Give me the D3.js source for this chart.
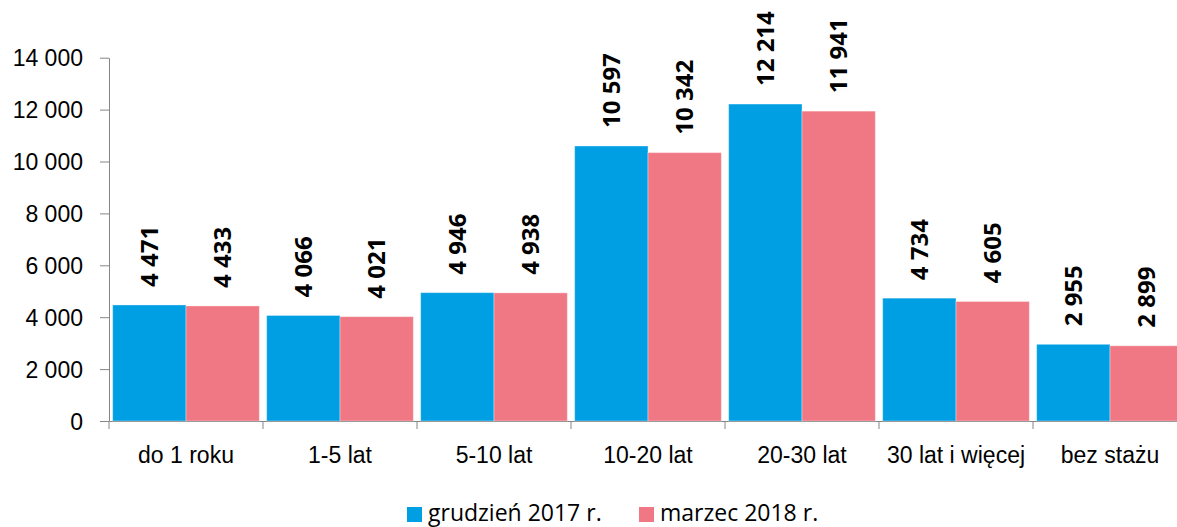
<!DOCTYPE html>
<html>
<head>
<meta charset="utf-8">
<script src="https://cdn.jsdelivr.net/npm/d3@7"></script>
<style>
  body { margin: 0; background: #fff; }
  svg { display: block; font-family: "Open Sans", "Liberation Sans", sans-serif; }
  .axis path, .axis line { stroke: #868686; }
  .axis text { fill: #000; font-size: 23px; }
</style>
</head>
<body>
<div id="chart"></div>
<script>
var categories = ["do 1 roku", "1-5 lat", "5-10 lat", "10-20 lat", "20-30 lat", "30 lat i więcej", "bez stażu"];
var seriesNames = ["grudzień 2017 r.", "marzec 2018 r."];
var dec2017 = [4471, 4066, 4946, 10597, 12214, 4734, 2955];
var mar2018 = [4433, 4021, 4938, 10342, 11941, 4605, 2899];
var yTicks = [0, 2000, 4000, 6000, 8000, 10000, 12000, 14000];

var colors = {"grudzień 2017 r.": "#009fe3", "marzec 2018 r.": "#f07884"};
var width = 1177, height = 527;
var margin = {top: 58, left: 109, bottom: 106};

var fmt = d3.formatLocale({decimal: ",", thousands: " ", grouping: [3], currency: ["", " zł"]}).format(",d");

var data = categories.map(function(c, i) {
  return {cat: c, vals: [
    {name: seriesNames[0], value: dec2017[i]},
    {name: seriesNames[1], value: mar2018[i]}
  ]};
});

var svg = d3.select("#chart").append("svg")
    .attr("width", width)
    .attr("height", height);

// plot runs past the right edge like in the original
var x = d3.scaleBand()
    .domain(categories)
    .range([margin.left, margin.left + 154 * categories.length]);

var xs = d3.scaleBand()
    .domain(seriesNames)
    .range([0, x.bandwidth()])
    .paddingOuter(0.05);

var y = d3.scaleLinear()
    .domain([0, 14000])
    .range([height - margin.bottom, margin.top - 0.3]);

// y axis
svg.append("g")
    .attr("class", "axis")
    .attr("transform", "translate(" + margin.left + ",0)")
    .call(d3.axisLeft(y).tickValues(yTicks).tickFormat(fmt).tickSize(9).tickSizeOuter(0).tickPadding(17))
  .selectAll("text")
    .attr("dy", "0.36em");

// x axis baseline + category labels
var xAxis = svg.append("g")
    .attr("class", "axis")
    .attr("transform", "translate(0," + y(0) + ")")
    .call(d3.axisBottom(x).tickSize(0).tickSizeOuter(0).tickPadding(26));

// tick marks between categories
xAxis.selectAll(".sep")
    .data(categories)
  .enter().append("line")
    .attr("class", "sep")
    .attr("x1", function(d) { return x(d); })
    .attr("x2", function(d) { return x(d); })
    .attr("y1", 0)
    .attr("y2", 8);

var groups = svg.selectAll(".grp")
    .data(data)
  .enter().append("g")
    .attr("class", "grp")
    .attr("transform", function(d) { return "translate(" + x(d.cat) + ",0)"; });

groups.selectAll("rect")
    .data(function(d) { return d.vals; })
  .enter().append("rect")
    .attr("x", function(d) { return xs(d.name); })
    .attr("y", function(d) { return y(d.value); })
    .attr("width", xs.bandwidth())
    .attr("height", function(d) { return y(0) - y(d.value); })
    .style("fill", function(d) { return colors[d.name]; })
    .style("stroke", "#ffffff")
    .style("stroke-opacity", 0.35)
    .style("stroke-width", 1);

groups.selectAll(".lbl")
    .data(function(d) { return d.vals; })
  .enter().append("text")
    .attr("class", "lbl")
    .attr("transform", function(d) {
      return "translate(" + (xs(d.name) + xs.bandwidth() / 2) + "," + (y(d.value) - 18) + ") rotate(-90)";
    })
    .attr("dy", "0.36em")
    .style("font-size", "24px")
    .style("font-weight", "bold")
    .style("fill", "#000")
    .text(function(d) { return fmt(d.value); });

// legend
var legendX = [407, 639];
var legend = svg.selectAll(".legend")
    .data(seriesNames)
  .enter().append("g")
    .attr("class", "legend")
    .attr("transform", function(d, i) { return "translate(" + legendX[i] + ",507)"; });

legend.append("rect")
    .attr("width", 15)
    .attr("height", 15)
    .style("fill", function(d) { return colors[d]; });

legend.append("text")
    .attr("x", 21)
    .attr("y", 14)
    .style("font-size", "23px")
    .style("fill", "#000")
    .text(function(d) { return d; });
</script>
</body>
</html>
